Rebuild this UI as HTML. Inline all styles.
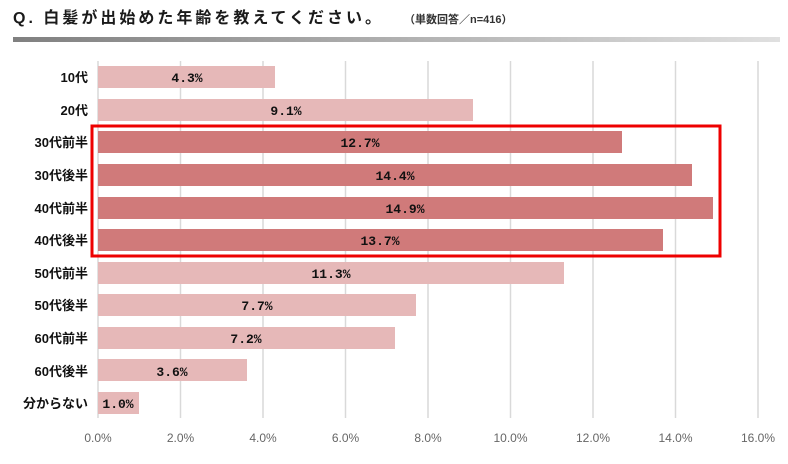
<!DOCTYPE html>
<html><head><meta charset="utf-8"><style>
body{margin:0;background:#fff;width:788px;height:459px;overflow:hidden;font-family:"Liberation Sans","Noto Sans CJK JP",sans-serif}
</style></head><body>
<svg width="788" height="459" xmlns="http://www.w3.org/2000/svg" font-family="Liberation Sans, Noto Sans CJK JP, sans-serif">
<defs><linearGradient id="g" x1="0" x2="1"><stop offset="0" stop-color="#808080"/><stop offset="1" stop-color="#e0e0e0"/></linearGradient></defs>
<text x="13" y="23" font-size="16" font-weight="bold" fill="#1a1a1a" letter-spacing="3">Q. 白髪が出始めた年齢を教えてください。</text>
<text x="404" y="23" font-size="11" font-weight="bold" fill="#333">（単数回答／n=416）</text>
<rect x="13" y="37" width="767" height="5" fill="url(#g)"/>
<g stroke="#d9d9d9" stroke-width="1.5">
<line x1="98" y1="61" x2="98" y2="418"/><line x1="180.5" y1="61" x2="180.5" y2="418"/><line x1="263" y1="61" x2="263" y2="418"/><line x1="345.5" y1="61" x2="345.5" y2="418"/><line x1="428" y1="61" x2="428" y2="418"/><line x1="510.5" y1="61" x2="510.5" y2="418"/><line x1="593" y1="61" x2="593" y2="418"/><line x1="675.5" y1="61" x2="675.5" y2="418"/><line x1="758" y1="61" x2="758" y2="418"/>
</g>
<g font-size="13" font-weight="bold" fill="#111" text-anchor="end">
<text x="88" y="82">10代</text><text x="88" y="115">20代</text><text x="88" y="147">30代前半</text><text x="88" y="180">30代後半</text><text x="88" y="213">40代前半</text><text x="88" y="245">40代後半</text><text x="88" y="278">50代前半</text><text x="88" y="310">50代後半</text><text x="88" y="343">60代前半</text><text x="88" y="376">60代後半</text><text x="88" y="408">分からない</text>
</g>
<g fill="#e6b8b8">
<rect x="98" y="66" width="177" height="22"/><rect x="98" y="99" width="375" height="22"/>
<rect x="98" y="262" width="466" height="22"/><rect x="98" y="294" width="318" height="22"/><rect x="98" y="327" width="297" height="22"/><rect x="98" y="359" width="149" height="22"/><rect x="98" y="392" width="41" height="22"/>
</g>
<g fill="#d07a7a">
<rect x="98" y="131" width="524" height="22"/><rect x="98" y="164" width="594" height="22"/><rect x="98" y="197" width="615" height="22"/><rect x="98" y="229" width="565" height="22"/>
</g>
<rect x="92" y="126" width="628" height="130" fill="none" stroke="#ee0000" stroke-width="3"/>
<g font-family="Liberation Mono, monospace" font-size="13" font-weight="bold" fill="#111" text-anchor="middle">
<text x="187" y="82">4.3%</text><text x="286" y="115">9.1%</text><text x="360" y="147">12.7%</text><text x="395" y="180">14.4%</text><text x="405" y="213">14.9%</text><text x="380" y="245">13.7%</text><text x="331" y="278">11.3%</text><text x="257" y="310">7.7%</text><text x="246" y="343">7.2%</text><text x="172" y="376">3.6%</text><text x="118" y="408">1.0%</text>
</g>
<g font-size="12" fill="#666" text-anchor="middle">
<text x="98" y="442">0.0%</text><text x="180.5" y="442">2.0%</text><text x="263" y="442">4.0%</text><text x="345.5" y="442">6.0%</text><text x="428" y="442">8.0%</text><text x="510.5" y="442">10.0%</text><text x="593" y="442">12.0%</text><text x="675.5" y="442">14.0%</text><text x="758" y="442">16.0%</text>
</g>
</svg>
</body></html>
